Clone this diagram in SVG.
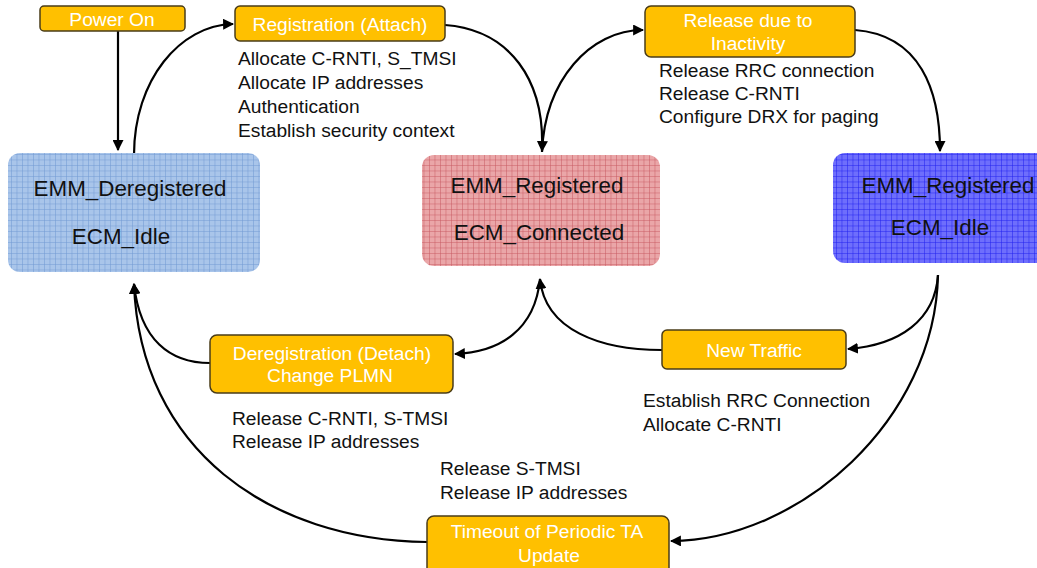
<svg xmlns="http://www.w3.org/2000/svg" width="1037" height="568" viewBox="0 0 1037 568">
<style>
.t{font-family:"Liberation Sans",Arial,sans-serif;font-size:19.2px;fill:#111}
.w{font-family:"Liberation Sans",Arial,sans-serif;font-size:19.2px;fill:#fff;text-anchor:middle}
.s{font-family:"Liberation Sans",Arial,sans-serif;font-size:22.4px;fill:#111;text-anchor:middle}
.ob{fill:#ffc000;stroke:#4a3c18;stroke-width:1.5}
.c{fill:none;stroke:#000;stroke-width:2.2}
</style>
<defs>
<pattern id="gb" width="5.5" height="5.5" patternUnits="userSpaceOnUse">
<rect width="5.5" height="5.5" fill="#a9c5ea"/>
<path d="M0 0H5.5M0 0V5.5" stroke="#7199d2" stroke-width="1"/>
</pattern>
<pattern id="gr" width="5.5" height="5.5" patternUnits="userSpaceOnUse">
<rect width="5.5" height="5.5" fill="#eaa6a8"/>
<path d="M0 0H5.5M0 0V5.5" stroke="#c85a62" stroke-width="1"/>
</pattern>
<pattern id="gv" width="5.5" height="5.5" patternUnits="userSpaceOnUse">
<rect width="5.5" height="5.5" fill="#6e6efc"/>
<path d="M0 0H5.5M0 0V5.5" stroke="#2020f0" stroke-width="1"/>
</pattern>
<marker id="ah" viewBox="0 0 10 10" refX="9" refY="5" markerWidth="5" markerHeight="5" orient="auto" markerUnits="strokeWidth">
<path d="M0 0L10 5L0 10Z" fill="#000"/>
</marker>
</defs>
<rect width="1037" height="568" fill="#fff"/>

<g id="connectors">
<path class="c" d="M118 31V150" marker-end="url(#ah)"/>
<path class="c" d="M134 155C134 80 180 25 233 24" marker-end="url(#ah)"/>
<path class="c" d="M445 25C510 30 545 80 542 151" marker-end="url(#ah)"/>
<path class="c" d="M542 152C545 80 590 30 643 30" marker-end="url(#ah)"/>
<path class="c" d="M855 30C920 35 940 90 940 151" marker-end="url(#ah)"/>
<path class="c" d="M938 275C935 320 900 345 848 349" marker-end="url(#ah)"/>
<path class="c" d="M938 275C935 420 800 540 671 541" marker-end="url(#ah)"/>
<path class="c" d="M662 350C600 350 545 330 540 279" marker-end="url(#ah)"/>
<path class="c" d="M540 279C535 330 500 352 455 354" marker-end="url(#ah)"/>
<path class="c" d="M210 363C170 363 140 340 134 284" marker-end="url(#ah)"/>
<path class="c" d="M427 542C270 540 140 450 134 284" marker-end="url(#ah)"/>
</g>

<g id="power-on">
<rect class="ob" x="40" y="6" width="145" height="25" rx="4"/>
<text class="w" x="112" y="25.5">Power On</text>
</g>

<g id="registration">
<rect class="ob" x="235" y="6" width="210" height="35" rx="5"/>
<text class="w" x="340" y="31">Registration (Attach)</text>
<text class="t" x="238" y="64.5">Allocate C-RNTI, S_TMSI</text>
<text class="t" x="238" y="88.5">Allocate IP addresses</text>
<text class="t" x="238" y="112.5">Authentication</text>
<text class="t" x="238" y="136.5">Establish security context</text>
</g>

<g id="release-inactivity">
<rect class="ob" x="645" y="6" width="210" height="51" rx="6"/>
<text class="w" x="748" y="26.5">Release due to</text>
<text class="w" x="748" y="49.5">Inactivity</text>
<text class="t" x="659" y="76.5">Release RRC connection</text>
<text class="t" x="659" y="99.5">Release C-RNTI</text>
<text class="t" x="659" y="122.5">Configure DRX for paging</text>
</g>

<g id="emm-deregistered">
<rect x="8" y="153" width="252" height="119" rx="12" fill="url(#gb)"/>
<text class="s" x="130" y="196">EMM_Deregistered</text>
<text class="s" x="121" y="244">ECM_Idle</text>
</g>

<g id="emm-registered-connected">
<rect x="422" y="155" width="238" height="111" rx="12" fill="url(#gr)"/>
<text class="s" x="537" y="193">EMM_Registered</text>
<text class="s" x="539" y="240">ECM_Connected</text>
</g>

<g id="emm-registered-idle">
<rect x="833" y="153" width="220" height="110" rx="12" fill="url(#gv)"/>
<text class="s" x="948" y="193">EMM_Registered</text>
<text class="s" x="940" y="235">ECM_Idle</text>
</g>

<g id="deregistration">
<rect class="ob" x="210" y="335" width="243" height="58" rx="7"/>
<text class="w" x="332" y="359.5">Deregistration (Detach)</text>
<text class="w" x="330" y="381.5">Change PLMN</text>
<text class="t" x="232" y="424.5">Release C-RNTI, S-TMSI</text>
<text class="t" x="232" y="447.5">Release IP addresses</text>
</g>

<g id="new-traffic">
<rect class="ob" x="662" y="330" width="184" height="39" rx="5"/>
<text class="w" x="754" y="356.5">New Traffic</text>
<text class="t" x="643" y="406.5">Establish RRC Connection</text>
<text class="t" x="643" y="430.5">Allocate C-RNTI</text>
</g>

<g id="timeout">
<text class="t" x="440" y="474.5">Release S-TMSI</text>
<text class="t" x="440" y="498.5">Release IP addresses</text>
<rect class="ob" x="427" y="516" width="242" height="60" rx="7"/>
<text class="w" x="547" y="537.5">Timeout of Periodic TA</text>
<text class="w" x="549" y="561.5">Update</text>
</g>
</svg>
